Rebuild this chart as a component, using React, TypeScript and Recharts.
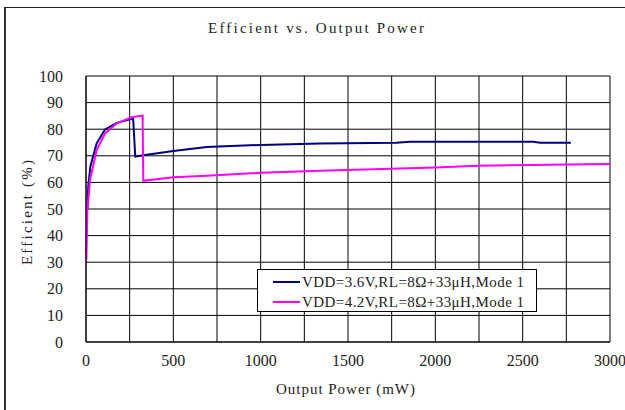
import React from 'react';
import { LineChart, Line, XAxis, YAxis, CartesianGrid, Legend } from 'recharts';

const chartTitle = 'Efficient vs. Output Power';
const xAxisTitle = 'Output Power (mW)';
const yAxisTitle = 'Efficient (%)';

const xTicks = [0, 250, 500, 750, 1000, 1250, 1500, 1750, 2000, 2250, 2500, 2750, 3000];
const xTickLabels = ['0', '', '500', '', '1000', '', '1500', '', '2000', '', '2500', '', '3000'];
const yTicks = [0, 10, 20, 30, 40, 50, 60, 70, 80, 90, 100];

const series1Name = 'VDD=3.6V,RL=8Ω+33μH,Mode 1';
const series1Color = '#000080';
const series1X = [8, 13, 25, 61, 109, 176, 252, 270, 282, 338, 500, 691, 1000, 1340, 1778, 1855, 2560, 2600, 2776];
const series1Y = [50, 58.4, 66, 74.7, 79.9, 82.4, 83.7, 83.9, 69.7, 70.3, 71.8, 73.3, 74.1, 74.6, 74.9, 75.3, 75.3, 74.9, 74.9];

const series2Name = 'VDD=4.2V,RL=8Ω+33μH,Mode 1';
const series2Color = '#FF00FF';
const series2X = [2, 8, 23, 61, 109, 176, 261, 324, 328, 500, 691, 1000, 1340, 1950, 2000, 2245, 3000];
const series2Y = [31, 49.6, 61, 72.2, 78.4, 82.2, 84.5, 85.1, 60.6, 61.9, 62.5, 63.6, 64.4, 65.5, 65.6, 66.3, 66.9];

const series1Data = series1X.map((x, i) => ({ x, y: series1Y[i] }));
const series2Data = series2X.map((x, i) => ({ x, y: series2Y[i] }));

const serifFont = '"Liberation Serif", "DejaVu Serif", serif';
const textColor = '#222';

const legendItems = [
  { name: series1Name, color: series1Color },
  { name: series2Name, color: series2Color },
];

const LegendBox = () => (
  <div
    style={{
      width: 280,
      height: 43,
      boxSizing: 'border-box',
      border: '1px solid #000',
      background: '#fff',
    }}
  >
    <svg width={278} height={41} style={{ display: 'block' }}>
      {legendItems.map((it, i) => (
        <g key={it.name}>
          <line x1={15} x2={42} y1={12 + i * 20} y2={12 + i * 20} stroke={it.color} strokeWidth={2} />
          <text
            x={44}
            y={12 + i * 20}
            dominantBaseline="central"
            fontFamily={serifFont}
            fontSize={15}
            fill={textColor}
            textLength={222}
            lengthAdjust="spacing"
          >
            {it.name}
          </text>
        </g>
      ))}
    </svg>
  </div>
);

const XTick = (props: any) => {
  const { x, y, payload } = props;
  const label = xTickLabels[xTicks.indexOf(payload.value)] ?? '';
  if (!label) return null;
  return (
    <text x={x} y={y + 24} textAnchor="middle" fontFamily={serifFont} fontSize={16} fill={textColor}>
      {label}
    </text>
  );
};

const YTick = (props: any) => {
  const { x, y, payload } = props;
  return (
    <text x={x} y={y + 5.5} textAnchor="end" fontFamily={serifFont} fontSize={16} fill={textColor}>
      {String(payload.value)}
    </text>
  );
};

export default function App() {
  return (
    <div style={{ position: 'absolute', left: 0, top: 0, width: 625, height: 410, overflow: 'hidden', background: '#fff' }}>
      <div
        style={{
          position: 'absolute',
          left: 4,
          top: 7,
          width: 800,
          height: 600,
          borderLeft: '2px solid #333',
          borderTop: '1px solid #222',
        }}
      />
      <div style={{ position: 'absolute', left: 0, top: 0 }}>
        <LineChart width={625} height={410} margin={{ top: 76, right: 15, bottom: 38, left: 26 }}>
          <CartesianGrid stroke="#000" strokeWidth={1} />
          <XAxis
            type="number"
            dataKey="x"
            domain={[0, 3000]}
            ticks={xTicks}
            tickLine={false}
            tickSize={0}
            tickMargin={0}
            height={30}
            axisLine={{ stroke: '#000', strokeWidth: 1 }}
            tick={<XTick />}
            interval={0}
            allowDuplicatedCategory={false}
          />
          <YAxis
            type="number"
            dataKey="y"
            domain={[0, 100]}
            ticks={yTicks}
            tickLine={false}
            tickSize={0}
            tickMargin={23}
            width={60}
            axisLine={{ stroke: '#000', strokeWidth: 1 }}
            tick={<YTick />}
            interval={0}
          />
          <Legend
            layout="horizontal"
            verticalAlign="middle"
            align="center"
            content={() => <LegendBox />}
            wrapperStyle={{ position: 'absolute', left: 257, top: 269, width: 280, height: 43 }}
          />
          <Line
            data={series1Data}
            dataKey="y"
            name={series1Name}
            type="linear"
            stroke={series1Color}
            strokeWidth={2}
            dot={false}
            isAnimationActive={false}
          />
          <Line
            data={series2Data}
            dataKey="y"
            name={series2Name}
            type="linear"
            stroke={series2Color}
            strokeWidth={2}
            dot={false}
            isAnimationActive={false}
          />
        </LineChart>
      </div>
      <svg width={625} height={410} style={{ position: 'absolute', left: 0, top: 0, pointerEvents: 'none' }}>
        <text
          x={208}
          y={33}
          fontFamily={serifFont}
          fontSize={15}
          fill={textColor}
          textLength={216}
          lengthAdjust="spacing"
        >
          {chartTitle}
        </text>
        <text
          x={276}
          y={394}
          fontFamily={serifFont}
          fontSize={15}
          fill={textColor}
          textLength={139}
          lengthAdjust="spacing"
        >
          {xAxisTitle}
        </text>
        <text
          x={0}
          y={0}
          fontFamily={serifFont}
          fontSize={15}
          fill={textColor}
          textLength={105}
          lengthAdjust="spacing"
          transform="translate(32 265) rotate(-90)"
        >
          {yAxisTitle}
        </text>
      </svg>
    </div>
  );
}
